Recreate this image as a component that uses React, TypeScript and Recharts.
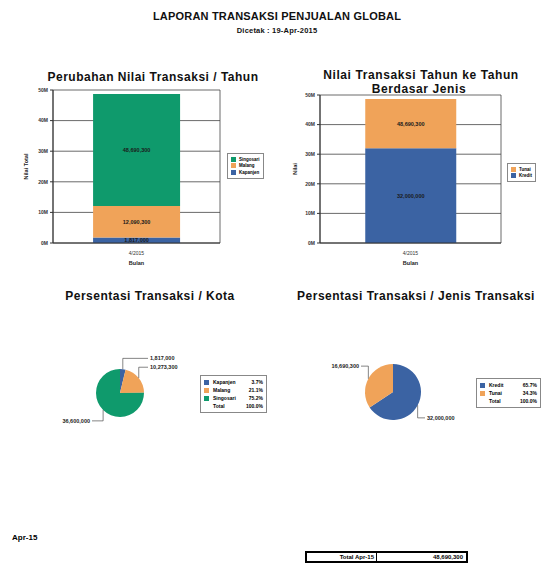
import React from 'react'
import {
  Bar, BarChart, CartesianGrid, Cell, LabelList, Pie, PieChart, XAxis, YAxis,
} from 'recharts'

const months = ['4/2015']
const kotaNames = ['Kapanjen', 'Malang', 'Singosari']
const kotaValues = [1817000, 10273300, 36600000]
const jenisNames = ['Kredit', 'Tunai']
const jenisValues = [32000000, 16690300]
const yTicks = [0, 10000000, 20000000, 30000000, 40000000, 50000000]
const printedOn = '19-Apr-2015'
const periodLabel = 'Apr-15'

const kotaColors = ['#3b63a3', '#f0a359', '#0f9a6c']
const jenisColors = ['#3b63a3', '#f0a359']
const FONT = '"Liberation Sans", Arial, sans-serif'

const fmt = (v: number) => Number(v).toLocaleString('en-US')
const sum = (a: number[]) => a.reduce((s, v) => s + v, 0)

// one row per month, plus running totals used as segment labels
const buildRows = (names: string[], values: number[]) =>
  months.map((m) => {
    const row: any = { month: m }
    let run = 0
    names.forEach((n, i) => {
      run += values[i]
      row[n] = values[i]
      row['cum_' + n] = run
    })
    return row
  })

const kotaRows = buildRows(kotaNames, kotaValues)
const jenisRows = buildRows(jenisNames, jenisValues)
const kotaPie = kotaNames.map((n, i) => ({ name: n, value: kotaValues[i] }))
const jenisPie = jenisNames.map((n, i) => ({ name: n, value: jenisValues[i] }))
const grandTotal = sum(kotaValues)

const Label = ({ x, y, size, spacing = 0, children }: any) => (
  <div style={{
    position: 'absolute', left: x, top: y, transform: 'translate(-50%, -50%)', letterSpacing: spacing,
    fontSize: size, fontWeight: 'bold', whiteSpace: 'nowrap', color: '#111',
  }}>{children}</div>
)

const pieLabel = (props: any) => {
  const { cx, cy, midAngle, outerRadius, value } = props
  const rad = Math.PI / 180
  const cos = Math.cos(-midAngle * rad)
  const sin = Math.sin(-midAngle * rad)
  const sx = cx + outerRadius * cos
  const sy = cy + outerRadius * sin
  const ey = sy + (sin < 0 ? -1 : 1) * outerRadius * 0.45
  const right = cos >= 0
  const ex = cx + (right ? 1 : -1) * (outerRadius + 4)
  return (
    <g>
      <polyline points={`${sx},${sy} ${sx},${ey} ${ex},${ey}`} fill="none" stroke="#333" strokeWidth={0.6} />
      <text x={ex + (right ? 2 : -2)} y={ey} textAnchor={right ? 'start' : 'end'} dominantBaseline="central"
        fontSize={5.5} fontWeight="bold" fill="#222">{fmt(value)}</text>
    </g>
  )
}

const BarLegend = ({ left, top, names, colors }: any) => (
  <div style={{ position: 'absolute', left, top, border: '1px solid #888', padding: '2px 3px', fontSize: 4.5 }}>
    {names.map((n: string, i: number) => (
      <div key={n} style={{ display: 'flex', alignItems: 'center', height: 6.5 }}>
        <span style={{ width: 5, height: 5, background: colors[i], marginRight: 3 }} />
        <span style={{ fontWeight: 'bold' }}>{n}</span>
      </div>
    ))}
  </div>
)

const PieLegend = ({ left, top, width, names, values, colors }: any) => {
  const total = sum(values)
  const row = (key: string, color: string | null, name: string, pct: string) => (
    <div key={key} style={{ display: 'flex', alignItems: 'center', height: 8 }}>
      <span style={{ width: 5, height: 5, background: color || 'transparent', marginRight: 4 }} />
      <span style={{ flex: 1, fontWeight: 'bold' }}>{name}</span>
      <span style={{ fontWeight: 'bold' }}>{pct}</span>
    </div>
  )
  return (
    <div style={{ position: 'absolute', left, top, width, border: '1px solid #888', padding: '2px 3px', fontSize: 5, boxSizing: 'border-box' }}>
      {names.map((n: string, i: number) => row(n, colors[i], n, (values[i] / total * 100).toFixed(1) + '%'))}
      {row('total', null, 'Total', '100.0%')}
    </div>
  )
}

const StackChart = ({ left, top, width, yWidth, marginTop, rows, names, colors, yLabel, gap }: any) => (
  <div style={{ position: 'absolute', left, top }}>
    <BarChart width={width} height={190} data={rows} barCategoryGap={gap}
      margin={{ top: marginTop, right: 5, bottom: 0, left: 0 }}>
      <CartesianGrid stroke="#444" strokeWidth={0.8}
        verticalCoordinatesGenerator={({ offset }: any) => [offset.left, offset.left + offset.width]} />
      <XAxis dataKey="month" height={32} tickLine={false} axisLine={{ stroke: '#333' }}
        tick={{ fontSize: 5, fill: '#333' }}
        label={{ value: 'Bulan', position: 'insideBottom', offset: 10, fontSize: 5.5, fontWeight: 'bold', fill: '#222' }} />
      <YAxis width={yWidth} domain={[0, 50000000]} ticks={yTicks} tickSize={3} interval={0}
        axisLine={{ stroke: '#333' }} tickLine={{ stroke: '#333' }}
        tick={{ fontSize: 5, fill: '#333', fontWeight: 'bold' }} tickFormatter={(v: number) => `${v / 1000000}M`}
        label={{ value: yLabel, angle: -90, position: 'center', fontSize: 5.5, fontWeight: 'bold', fill: '#222' }} />
      {names.map((n: string, i: number) => (
        <Bar key={n} dataKey={n} stackId="a" fill={colors[i]} isAnimationActive={false}>
          <LabelList dataKey={'cum_' + n} position="center" formatter={(v: any) => fmt(v)}
            fontSize={5.5} fontWeight="bold" fill="#1a1a1a" />
        </Bar>
      ))}
    </BarChart>
  </div>
)

export default function App() {
  return (
    <div style={{ position: 'absolute', left: 0, top: 0, width: 542, height: 564, background: '#fff', overflow: 'hidden', fontFamily: FONT }}>
      <Label x={277} y={16} size={11} spacing={0.2}>LAPORAN TRANSAKSI PENJUALAN GLOBAL</Label>
      <Label x={277} y={30} size={7.5} spacing={0.2}>Dicetak : {printedOn}</Label>

      <Label x={153} y={77} size={12} spacing={0.5}>Perubahan Nilai Transaksi / Tahun</Label>
      <StackChart left={0} top={85} width={225} yWidth={53} marginTop={5} rows={kotaRows}
        names={kotaNames} colors={kotaColors} yLabel="Nilai Total" gap="24%" />
      <BarLegend left={227} top={153} names={[...kotaNames].reverse()} colors={[...kotaColors].reverse()} />

      <Label x={421} y={75} size={12} spacing={0.6}>Nilai Transaksi Tahun ke Tahun</Label>
      <Label x={419} y={89} size={12} spacing={0.6}>Berdasar Jenis</Label>
      <StackChart left={271} top={85} width={235} yWidth={49} marginTop={10} rows={jenisRows}
        names={jenisNames} colors={jenisColors} yLabel="Nilai" gap="25%" />
      <BarLegend left={507} top={163} names={[...jenisNames].reverse()} colors={[...jenisColors].reverse()} />

      <Label x={150} y={296} size={12} spacing={0.5}>Persentasi Transaksi / Kota</Label>
      <div style={{ position: 'absolute', left: 20, top: 340 }}>
        <PieChart width={170} height={100}>
          <Pie data={kotaPie} dataKey="value" nameKey="name" cx={95} cy={48} outerRadius={24}
            startAngle={90} endAngle={-270} stroke="none" label={pieLabel} labelLine={false} isAnimationActive={false}>
            {kotaPie.map((d, i) => <Cell key={d.name} fill={kotaColors[i]} />)}
          </Pie>
        </PieChart>
      </div>
      <PieLegend left={200} top={375} width={67} names={kotaNames} values={kotaValues} colors={kotaColors} />

      <Label x={416} y={296} size={12} spacing={0.5}>Persentasi Transaksi / Jenis Transaksi</Label>
      <div style={{ position: 'absolute', left: 310, top: 340 }}>
        <PieChart width={160} height={100}>
          <Pie data={jenisPie} dataKey="value" nameKey="name" cx={78} cy={47} outerRadius={28}
            startAngle={90} endAngle={-270} stroke="none" label={pieLabel} labelLine={false} isAnimationActive={false}>
            {jenisPie.map((d, i) => <Cell key={d.name} fill={jenisColors[i]} />)}
          </Pie>
        </PieChart>
      </div>
      <PieLegend left={476} top={378} width={65} names={jenisNames} values={jenisValues} colors={jenisColors} />

      <div style={{ position: 'absolute', left: 12, top: 533, fontSize: 8, fontWeight: 'bold' }}>{periodLabel}</div>
      <div style={{ position: 'absolute', left: 305, top: 551, width: 163, height: 12, border: '2px solid #000', boxSizing: 'border-box', display: 'flex', fontSize: 6, fontWeight: 'bold' }}>
        <div style={{ width: 67, borderRight: '1.5px solid #000', textAlign: 'right', paddingRight: 2, lineHeight: '8px' }}>Total {periodLabel}</div>
        <div style={{ flex: 1, textAlign: 'right', paddingRight: 3, lineHeight: '8px' }}>{fmt(grandTotal)}</div>
      </div>
    </div>
  )
}
